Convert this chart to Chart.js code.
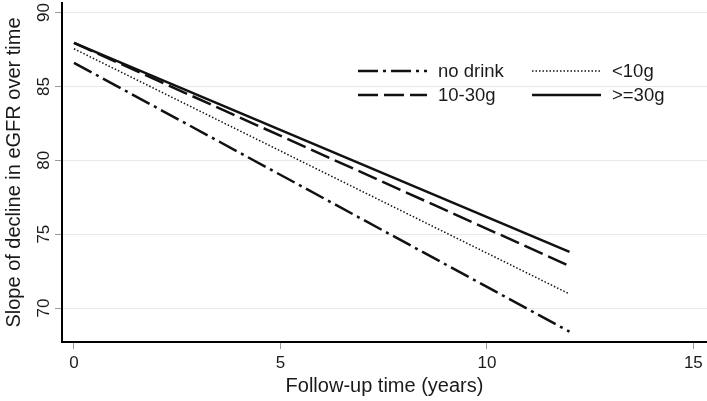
<!DOCTYPE html>
<html lang="en">
<head>
    <meta charset="UTF-8">
    <title>Slope of decline in eGFR over time</title>
    <script src="https://cdn.jsdelivr.net/npm/chart.js"></script>
    <style>
        body { margin: 0; background: #fff; }
        #wrap { width: 707px; height: 401px; position: relative; }
    </style>
</head>
<body>
    <div id="wrap"><canvas id="egfrChart"></canvas></div>

    <script>
        // follow-up years where each fitted line starts and ends
        const years = [0, 12];
        const noDrink = [86.6, 68.4];
        const under10g = [87.55, 70.95];
        const from10to30g = [87.95, 72.85];
        const over30g = [87.95, 73.8];

        const seriesLabels = ['no drink', '<10g', '10-30g', '>=30g'];
        const xTicks = [0, 5, 10, 15];
        const yTicks = [70, 75, 80, 85, 90];

        const font = 'Liberation Sans, Arial, sans-serif';
        const dashes = {
            'no drink': [20, 5, 3, 5],
            '<10g': [1.5, 2],
            '10-30g': [20, 6],
            '>=30g': []
        };
        const widths = { 'no drink': 2.5, '<10g': 1.5, '10-30g': 2.5, '>=30g': 2.5 };

        function makeSet(label, values) {
            return {
                label: label,
                data: years.map((x, i) => ({ x: x, y: values[i] })),
                borderColor: '#111',
                borderWidth: widths[label],
                borderDash: dashes[label],
                pointRadius: 0,
                fill: false
            };
        }

        // legend drawn by hand: two columns, two rows, inside the plot
        const lineLegend = {
            id: 'lineLegend',
            afterDraw(chart) {
                const ctx = chart.ctx;
                const spots = {
                    'no drink': [358, 71], '<10g': [532, 71],
                    '10-30g': [358, 95], '>=30g': [532, 95]
                };
                ctx.save();
                ctx.font = '18.5px ' + font;
                ctx.textBaseline = 'middle';
                ctx.fillStyle = '#1a1a1a';
                seriesLabels.forEach(name => {
                    const [x, y] = spots[name];
                    ctx.beginPath();
                    ctx.strokeStyle = '#111';
                    ctx.lineWidth = widths[name];
                    ctx.setLineDash(dashes[name]);
                    ctx.moveTo(x, y);
                    ctx.lineTo(x + 69, y);
                    ctx.stroke();
                    ctx.setLineDash([]);
                    ctx.fillText(name, x + 80, y + 1);
                });
                ctx.restore();
            }
        };

        new Chart(document.getElementById('egfrChart'), {
            type: 'line',
            data: {
                datasets: [
                    makeSet('no drink', noDrink),
                    makeSet('<10g', under10g),
                    makeSet('10-30g', from10to30g),
                    makeSet('>=30g', over30g)
                ]
            },
            options: {
                responsive: true,
                maintainAspectRatio: false,
                animation: false,
                layout: { padding: { top: 3, right: 0, left: 0, bottom: 0 } },
                plugins: {
                    legend: { display: false },
                    tooltip: { enabled: false }
                },
                scales: {
                    x: {
                        type: 'linear',
                        min: -0.29,
                        max: 15.33,
                        afterBuildTicks: s => { s.ticks = xTicks.map(v => ({ value: v })); },
                        afterFit: s => { s.height = 59; s.paddingLeft = 0; s.paddingRight = 0; },
                        border: { color: '#000', width: 2 },
                        grid: { drawOnChartArea: false, tickColor: '#999', tickLength: 7 },
                        ticks: { color: '#1a1a1a', font: { family: font, size: 17 }, padding: 4, maxRotation: 0 },
                        title: {
                            display: true,
                            text: 'Follow-up time (years)',
                            color: '#1a1a1a',
                            font: { family: font, size: 20 },
                            padding: { top: 0, bottom: 3 }
                        }
                    },
                    y: {
                        min: 67.7,
                        max: 90.65,
                        afterBuildTicks: s => { s.ticks = yTicks.map(v => ({ value: v })); },
                        afterFit: s => { s.width = 62; s.paddingTop = 0; s.paddingBottom = 0; },
                        border: { color: '#000', width: 2 },
                        grid: { color: '#e8e8e8', lineWidth: 1, tickColor: '#999', tickLength: 7 },
                        ticks: {
                            color: '#1a1a1a',
                            font: { family: font, size: 17 },
                            minRotation: 90,
                            maxRotation: 90,
                            crossAlign: 'center',
                            padding: 1
                        },
                        title: {
                            display: true,
                            text: 'Slope of decline in eGFR over time',
                            color: '#1a1a1a',
                            font: { family: font, size: 20 },
                            padding: { top: 2, bottom: 0 }
                        }
                    }
                }
            },
            plugins: [lineLegend]
        });
    </script>
</body>
</html>
